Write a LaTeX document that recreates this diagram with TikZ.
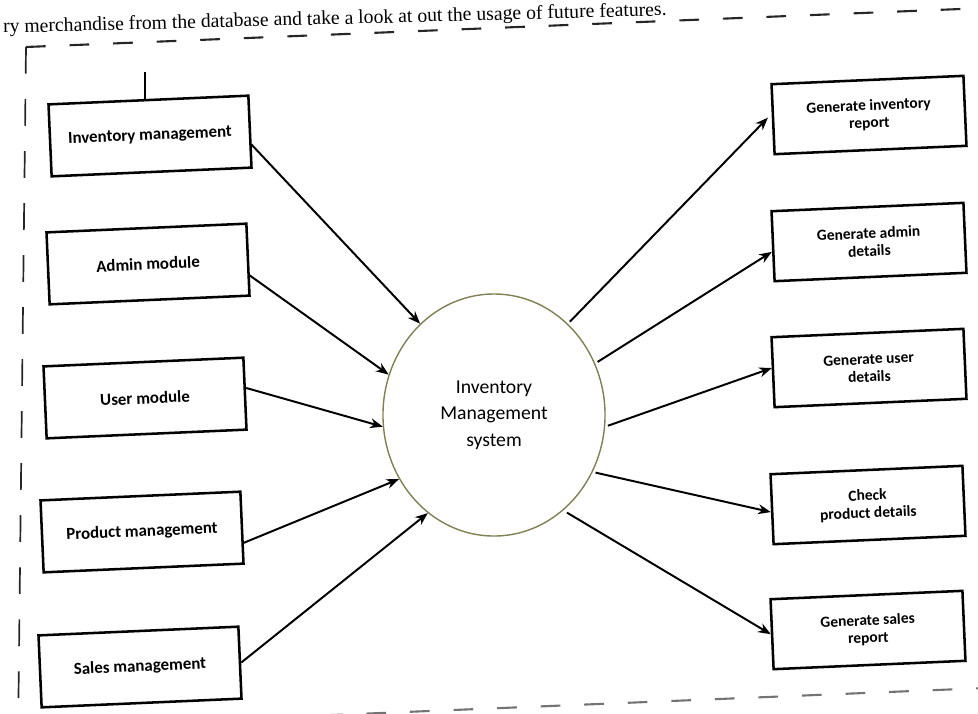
\documentclass[tikz,border=0pt]{standalone}
\usepackage{fontspec}
\setmainfont{Liberation Serif}
\newfontfamily\calibri{Carlito}
\usetikzlibrary{arrows.meta,shapes.geometric}
\definecolor{rim}{RGB}{128,128,84}

\begin{document}
\begin{tikzpicture}[x=0.025cm,y=-0.025cm,
    module/.style={draw,line width=1.8pt,rotate=2.5,minimum width=5cm,minimum height=1.8cm,
                   font=\calibri\bfseries\fontsize{12}{14}\selectfont},
    report/.style={draw,line width=1.8pt,rotate=2.5,minimum width=4.8cm,minimum height=1.75cm,
                   align=center,font=\calibri\bfseries\fontsize{11}{12.5}\selectfont},
    flow/.style={line width=1.4pt,-{Stealth[length=9pt,width=7pt]}},
    border/.style={line width=1.5pt,dash pattern=on 14pt off 17pt}]
  \useasboundingbox (0,0) rectangle (978,713);

  % text of the page above the frame
  \node[anchor=base west,rotate=1.5,inner sep=0,font=\fontsize{14}{16}\selectfont] (intro) at (3,33)
    {ry merchandise from the database and take a look at out the usage of future features.};

  % dashed frame
  \coordinate (nw) at (26,47);
  \draw[border,black!85] (nw) -- (985,8);
  \draw[border,black!85,line width=1.2pt,dash pattern=on 19pt off 18pt] (nw) -- (18,740);
  \draw[border,black!55] (18,728) -- (985,688);

  % centre
  \node[shape=ellipse,draw=rim,line width=1pt,minimum width=5.55cm,minimum height=6.05cm,
        align=center,font=\calibri\fontsize{14}{19}\selectfont] (sys) at (494,415)
    {Inventory\\Management\\system};

  % inputs
  \node[module] (inv) at (150,136) {Inventory management};
  \node[module] (admin) at (148,264) {Admin module};
  \node[module] (user) at (145,398) {User module};
  \node[module] (prod) at (142,532) {Product management};
  \node[module] (sales) at (140,667) {Sales management};

  % outputs
  \node[report] (rinv) at (869,115) {Generate inventory\\report};
  \node[report] (radmin) at (869,242) {Generate admin\\details};
  \node[report] (ruser) at (869,368) {Generate user\\details};
  \node[report] (rprod) at (868,505) {Check\\product details};
  \node[report] (rsales) at (868,630) {Generate sales\\report};

  \coordinate (mark) at (145,72);
  \draw[line width=1pt] (mark) -- (mark |- inv.north);

  \draw[flow] ([yshift=-9pt]inv.east) -- (sys.129);
  \draw[flow] ([yshift=-11pt]admin.east) -- (sys.159);
  \draw[flow] ([yshift=4pt]user.east) -- (sys.186);
  \draw[flow] ([yshift=-11pt]prod.east) -- (sys.214);
  \draw[flow] (sales.east) -- (sys.236);

  \draw[flow,shorten <=2pt,shorten >=4pt] (sys.51) -- ([yshift=4pt]rinv.west);
  \draw[flow,shorten <=2pt] (sys.27) -- ([yshift=-4pt]radmin.west);
  \draw[flow,shorten <=2pt] (sys.-6) -- ([yshift=3pt]ruser.west);
  \draw[flow,shorten <=2pt] (sys.-30) -- ([yshift=-2pt]rprod.west);
  \draw[flow,shorten <=3pt] (sys.-54) -- (rsales.west);
\end{tikzpicture}
\end{document}
